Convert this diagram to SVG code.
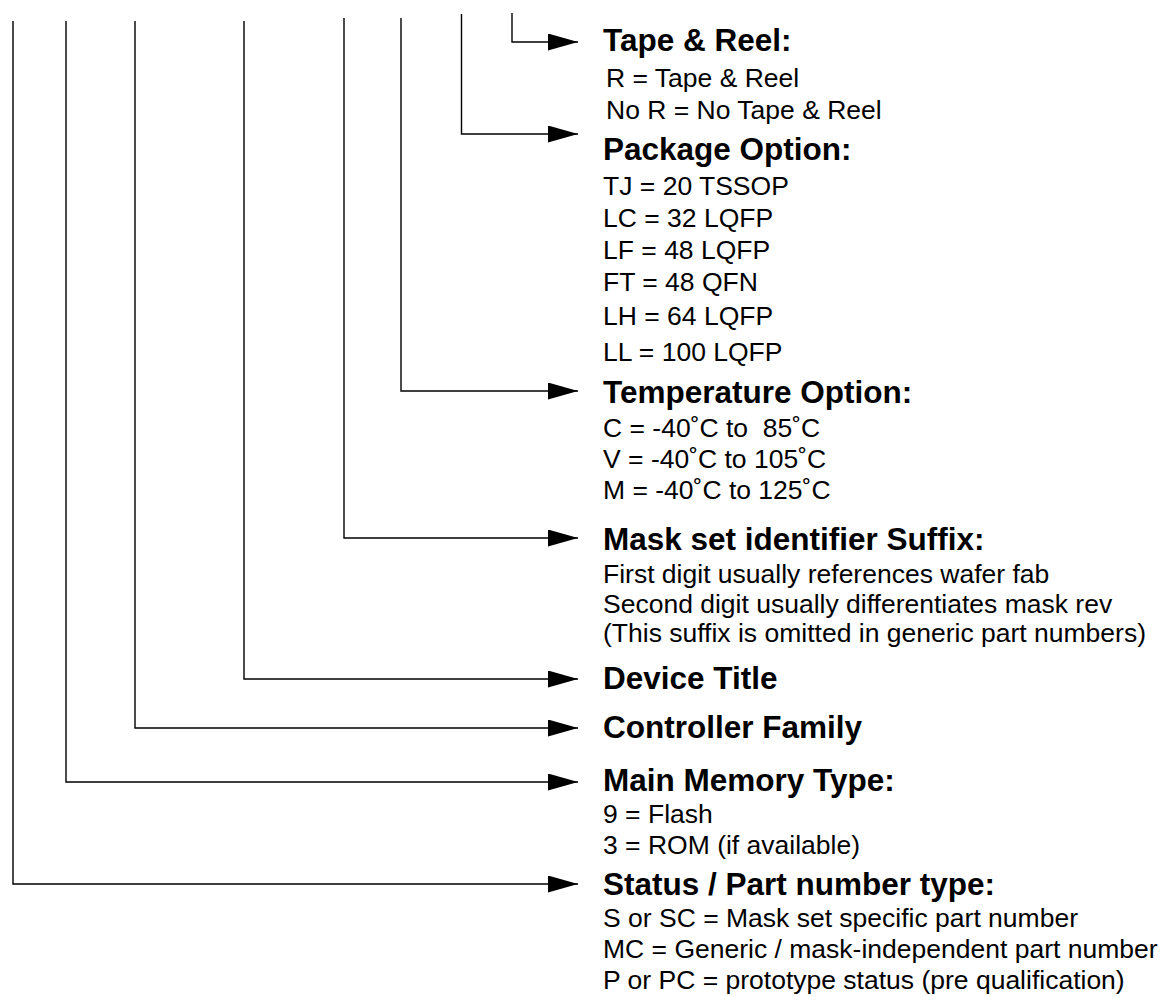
<svg xmlns="http://www.w3.org/2000/svg" width="1163" height="996" viewBox="0 0 1163 996">
<style>
.h{font-family:"Liberation Sans",Arial,Helvetica,sans-serif;font-weight:bold;font-size:31.5px;fill:#000}
.b{font-family:"Liberation Sans",Arial,Helvetica,sans-serif;font-size:26.5px;fill:#000}
.c{fill:none;stroke:#000;stroke-width:1.4}
</style>
<defs>
<marker id="arr" markerUnits="userSpaceOnUse" markerWidth="31" markerHeight="18" refX="30" refY="8.5" orient="auto">
<path d="M0,0 L30,8.5 L0,17 Z" fill="#000"/>
</marker>
</defs>
<rect width="1163" height="996" fill="#fff"/>
<g id="connectors">
<path class="c" d="M512,13 V42 H578" marker-end="url(#arr)"/>
<path class="c" d="M461.5,14 V134 H578" marker-end="url(#arr)"/>
<path class="c" d="M401,18 V391 H578" marker-end="url(#arr)"/>
<path class="c" d="M344,18 V538 H578" marker-end="url(#arr)"/>
<path class="c" d="M244,21 V679 H578" marker-end="url(#arr)"/>
<path class="c" d="M135,21 V728 H578" marker-end="url(#arr)"/>
<path class="c" d="M66,21 V782 H578" marker-end="url(#arr)"/>
<path class="c" d="M13,21 V884 H578" marker-end="url(#arr)"/>
</g>
<g id="tape-reel">
<text class="h" x="603" y="51">Tape &amp; Reel:</text>
<text class="b" x="606" y="87">R = Tape &amp; Reel</text>
<text class="b" x="606" y="119">No R = No Tape &amp; Reel</text>
</g>
<g id="package-option">
<text class="h" x="603" y="159.5">Package Option:</text>
<text class="b" x="603" y="195">TJ = 20 TSSOP</text>
<text class="b" x="603" y="227">LC = 32 LQFP</text>
<text class="b" x="603" y="259">LF = 48 LQFP</text>
<text class="b" x="603" y="291">FT = 48 QFN</text>
<text class="b" x="603" y="325">LH = 64 LQFP</text>
<text class="b" x="603" y="361">LL = 100 LQFP</text>
</g>
<g id="temperature-option">
<text class="h" x="603" y="403">Temperature Option:</text>
<text class="b" x="603" y="436.5" xml:space="preserve">C = -40˚C to  85˚C</text>
<text class="b" x="603" y="467.5">V = -40˚C to 105˚C</text>
<text class="b" x="603" y="498.5">M = -40˚C to 125˚C</text>
</g>
<g id="mask-set-suffix">
<text class="h" x="603" y="550">Mask set identifier Suffix:</text>
<text class="b" x="603" y="583">First digit usually references wafer fab</text>
<text class="b" x="603" y="613">Second digit usually differentiates mask rev</text>
<text class="b" x="603" y="642">(This suffix is omitted in generic part numbers)</text>
</g>
<g id="device-title">
<text class="h" x="603" y="689">Device Title</text>
</g>
<g id="controller-family">
<text class="h" x="603" y="738">Controller Family</text>
</g>
<g id="main-memory-type">
<text class="h" x="603" y="791">Main Memory Type:</text>
<text class="b" x="603" y="823">9 = Flash</text>
<text class="b" x="603" y="854">3 = ROM (if available)</text>
</g>
<g id="status-part-number">
<text class="h" x="603" y="895">Status / Part number type:</text>
<text class="b" x="603" y="927">S or SC = Mask set specific part number</text>
<text class="b" x="603" y="958">MC = Generic / mask-independent part number</text>
<text class="b" x="603" y="989">P or PC = prototype status (pre qualification)</text>
</g>
</svg>
